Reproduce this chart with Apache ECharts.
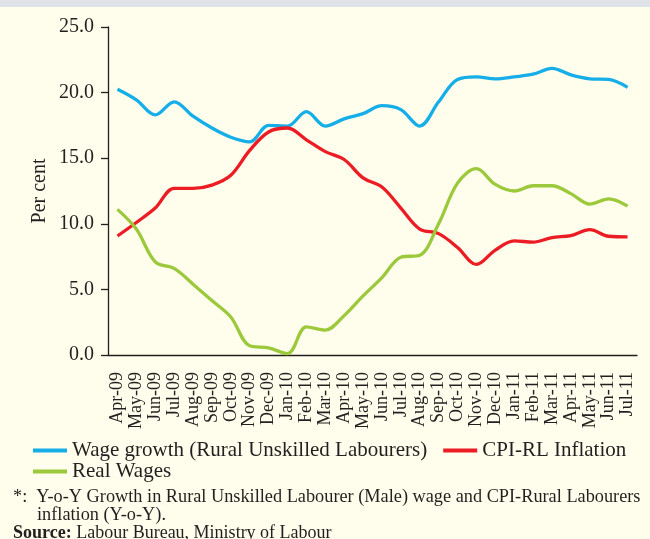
<!DOCTYPE html>
<html><head><meta charset="utf-8">
<script src="https://cdn.jsdelivr.net/npm/echarts@6/dist/echarts.min.js"></script>
<style>html,body{margin:0;padding:0;background:#fffdeb;}#c{width:650px;height:539px;}</style>
</head><body><div id="c"></div>
<script>
const categories = ['Apr-09','May-09','Jun-09','Jul-09','Aug-09','Sep-09','Oct-09','Nov-09','Dec-09','Jan-10','Feb-10','Mar-10','Apr-10','May-10','Jun-10','Jul-10','Aug-10','Sep-10','Oct-10','Nov-10','Dec-10','Jan-11','Feb-11','Mar-11','Apr-11','May-11','Jun-11','Jul-11'];
const wageGrowth = [20.26,19.45,18.3,19.3,18.2,17.3,16.6,16.25,17.5,17.45,18.55,17.45,18.0,18.4,19.0,18.7,17.45,19.3,21.0,21.2,21.05,21.2,21.4,21.85,21.35,21.05,21.0,20.4];
const cpiInflation = [9.07,10.1,11.2,12.7,12.7,12.95,13.7,15.6,17.0,17.3,16.4,15.5,14.9,13.5,12.8,11.2,9.6,9.25,8.2,6.9,8.0,8.7,8.6,8.95,9.1,9.55,9.05,9.0];
const realWages = [11.1,9.6,7.1,6.6,5.4,4.15,2.9,0.7,0.55,0.1,2.15,1.9,3.0,4.5,5.9,7.45,7.6,10.0,13.1,14.2,13.0,12.5,12.9,12.9,12.3,11.5,11.9,11.35];
const yTicks = [0, 5, 25];
const seriesNames = ['Wage growth (Rural Unskilled Labourers)', 'CPI-RL Inflation', 'Real Wages'];
const footnote1 = '*:  Y-o-Y Growth in Rural Unskilled Labourer (Male) wage and CPI-Rural Labourers';
const footnote2 = 'inflation (Y-o-Y).';
const sourceLabel = 'Source:';
const sourceText = ' Labour Bureau, Ministry of Labour';

const FONT = '"Liberation Serif", serif';
const INK = '#231f20';
const chart = echarts.init(document.getElementById('c'), null, {renderer:'canvas'});
chart.setOption({
  backgroundColor: '#fffdeb',
  animation: false,
  textStyle: {fontFamily: FONT, color: INK},
  grid: {left:108, right:13, top:27, bottom:184, containLabel:false, outerBoundsMode:'none'},
  xAxis: {
    type:'category', data: categories, boundaryGap:true,
    axisLine:{lineStyle:{color:INK, width:1.3}},
    axisTick:{alignWithLabel:false, length:7, lineStyle:{color:INK, width:1.3}},
    axisLabel:{rotate:90, interval:0, margin:17, fontSize:18, fontFamily:FONT, color:INK}
  },
  yAxis: {
    type:'value', min:yTicks[0], max:yTicks[2], interval:yTicks[1],
    name:'Per cent', nameLocation:'middle', nameGap:58, nameRotate:90, nameMoveOverlap:false,
    nameTextStyle:{fontSize:20, fontFamily:FONT, color:INK},
    axisLine:{show:true, lineStyle:{color:INK, width:1.3}},
    axisTick:{show:true, length:7, lineStyle:{color:INK, width:1.3}},
    splitLine:{show:false},
    axisLabel:{formatter:v=>v.toFixed(1), margin:14, fontSize:20, fontFamily:FONT, color:INK}
  },
  legend: [
    {data:[seriesNames[0], seriesNames[1]], left:28, top:435, icon:'rect', itemWidth:34, itemHeight:4, itemGap:16,
     textStyle:{fontSize:21, fontFamily:FONT, color:INK}},
    {data:[seriesNames[2]], left:28, top:456, icon:'rect', itemWidth:34, itemHeight:4,
     textStyle:{fontSize:21, fontFamily:FONT, color:INK}}
  ],
  series: [
    {name:seriesNames[0], type:'line', data:wageGrowth, smooth:0.35, showSymbol:false, symbol:'none', lineStyle:{color:'#16aee8', width:3.3}, itemStyle:{color:'#16aee8'}},
    {name:seriesNames[1], type:'line', data:cpiInflation, smooth:0.35, showSymbol:false, symbol:'none', lineStyle:{color:'#ec1c24', width:3.3}, itemStyle:{color:'#ec1c24'}},
    {name:seriesNames[2], type:'line', data:realWages, smooth:0.35, showSymbol:false, symbol:'none', lineStyle:{color:'#9cc93b', width:3.3}, itemStyle:{color:'#9cc93b'}}
  ],
  graphic: [
    {type:'rect', left:0, top:0, shape:{width:650, height:7}, style:{fill:'#dfe3e8'}, silent:true},
    {type:'text', left:13, top:488, style:{text:footnote1, font:'18.3px '+FONT, fill:INK}},
    {type:'text', left:37, top:506, style:{text:footnote2, font:'18.3px '+FONT, fill:INK}},
    {type:'text', left:13, top:524, style:{
      text:'{b|'+sourceLabel+'}{n|'+sourceText+'}',
      rich:{b:{font:'bold 18px '+FONT, fill:INK}, n:{font:'18px '+FONT, fill:INK}}
    }}
  ]
});
</script></body></html>
